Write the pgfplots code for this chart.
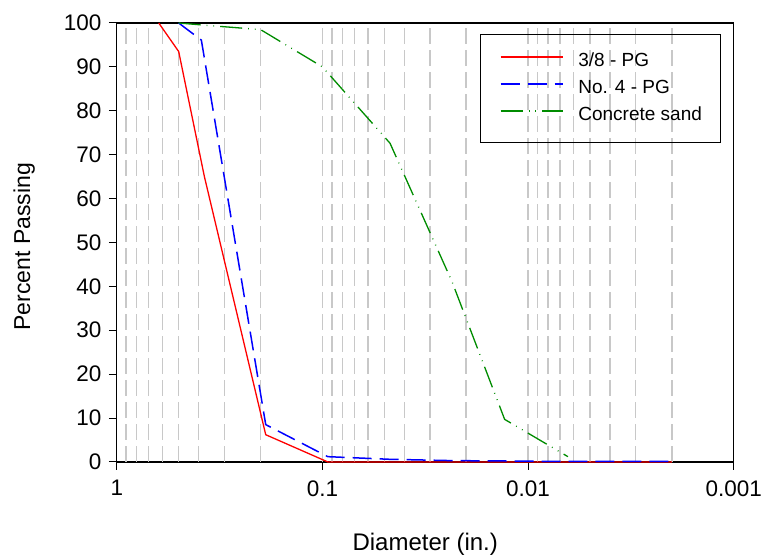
\documentclass[border=0pt]{standalone}
\usepackage{fontspec}
\setmainfont{Liberation Sans}
\usepackage{pgfplots}
\pgfplotsset{compat=1.18}
\definecolor{gridgray}{RGB}{200,200,200}
\definecolor{sandgreen}{RGB}{0,140,0}
\begin{document}
\begin{tikzpicture}
\begin{axis}[
  width=617pt, height=439pt, scale only axis,
  xmode=log, x dir=reverse, xmin=0.001, xmax=1,
  ymin=0, ymax=100,
  clip=false,
  xtick={1,0.1,0.01,0.001}, xticklabels={1,0.1,0.01,0.001},
  ytick={0,10,...,100},
  minor xtick={}, minor ytick={},
  tick align=outside, tick pos=left, major tick length=8pt,
  tick style={black, line width=1pt},
  axis line style={black, line width=1.2pt},
  ticklabel style={font=\fontsize{22.5}{22.5}\selectfont},
  xticklabel style={yshift=-7pt},
  yticklabel style={xshift=-4pt},
  /pgf/number format/assume math mode=true,
  extra x ticks={0.9,0.8,0.7,0.6,0.5,0.4,0.3,0.2,0.1,0.09,0.08,0.07,0.06,0.05,0.04,0.03,0.02,0.01,0.009,0.008,0.007,0.006,0.005,0.004,0.003,0.002},
  extra x tick labels={},
  extra x tick style={grid=major, major tick length=0pt,
     major grid style={gridgray, line width=1.4pt, dash pattern=on 16pt off 6pt}},
  xlabel={Diameter (in.)}, ylabel={Percent Passing},
  xlabel style={at={(axis description cs:0.5,-0.187)}, anchor=center, font=\fontsize{24}{24}\selectfont},
  ylabel style={at={(axis description cs:-0.150,0.49)}, anchor=center, font=\fontsize{23}{23}\selectfont},
  legend style={at={(axis description cs:0.7848,0.8497)}, anchor=center,
     draw=none, fill=none, inner xsep=0pt, inner ysep=0pt,
     row sep=9pt, column sep=15pt,
     font=\fontsize{19}{19}\selectfont,
     nodes={inner sep=0pt, text height=14pt, text depth=4pt}},
  legend cell align=left,
  legend image code/.code={\draw[#1, line width=1.4pt] (0pt,5pt) -- (62pt,5pt);},
]
\addplot[color=red, line width=1.3pt] coordinates {
 (0.625,100) (0.5,93.5) (0.375,65) (0.1887,6.2) (0.0942,0) (0.047,0) (0.0234,0) (0.0117,0) (0.0059,0) (0.0029,0) (0.002,0)};
\addlegendentry{3/8 - PG}
\addplot[color=blue, line width=1.5pt, dash pattern=on 19pt off 8pt] coordinates {
 (0.5,100) (0.388,96.1) (0.1887,8.5) (0.0942,1.2) (0.047,0.6) (0.0234,0.3) (0.0117,0.2) (0.0059,0.1) (0.0029,0.1) (0.002,0.1)};
\addlegendentry{No. 4 - PG}
\addplot[color=sandgreen, line width=1.3pt, dash pattern=on 22pt off 6pt on 0.8pt off 6pt on 0.8pt off 6pt] coordinates {
 (0.5,100) (0.375,99.5) (0.2,98.5) (0.1,90) (0.0469,72.6) (0.0234,41) (0.013,9.7) (0.0064,1.2)};
\addlegendentry{Concrete sand}
\coordinate (sw) at (rel axis cs:0,0);
\coordinate (ne) at (rel axis cs:1,1);
\coordinate (legsw) at (rel axis cs:0.5903,0.7267);
\coordinate (legne) at (rel axis cs:0.9793,0.9727);
\end{axis}
\draw[black, line width=1pt] (legsw) rectangle (legne);
\pgfresetboundingbox
\path (sw) ++(-116.8pt,-94pt) coordinate (bl);
\path (ne) ++(27.3pt,23pt) coordinate (tr);
\path (bl) rectangle (tr);
\end{tikzpicture}
\end{document}
